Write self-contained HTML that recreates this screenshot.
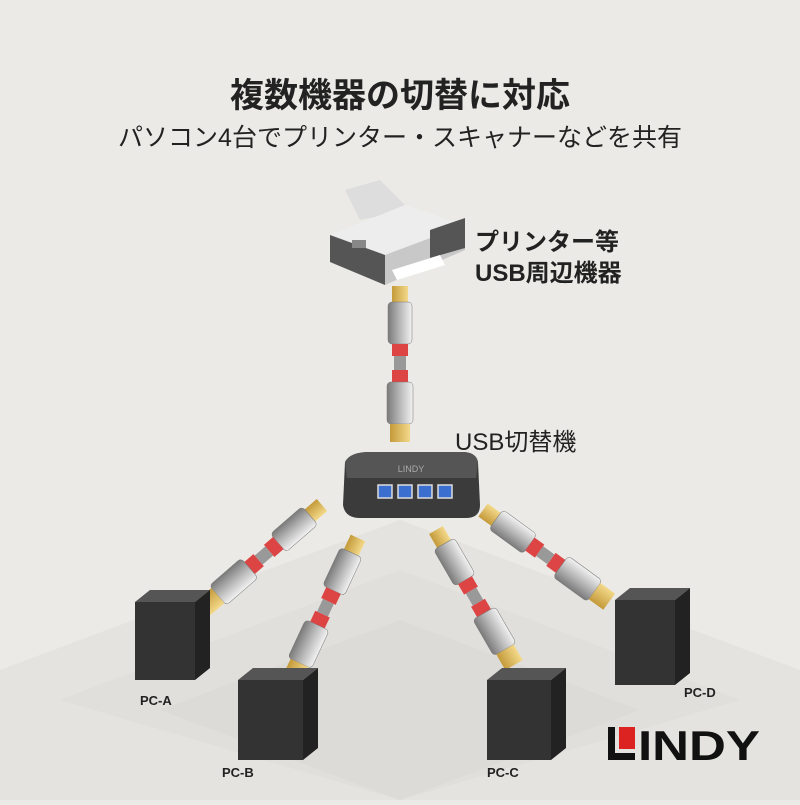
<!DOCTYPE html>
<html><head><meta charset="utf-8"><style>
body{margin:0;width:800px;height:800px;overflow:hidden;background:#ebeae6;font-family:"Liberation Sans","Noto Sans CJK JP",sans-serif}
</style></head><body>
<svg width="800" height="800" viewBox="0 0 800 800" xmlns="http://www.w3.org/2000/svg">
<defs>
<linearGradient id="gy" x1="0" y1="0" x2="0" y2="1"><stop offset="0" stop-color="#f2f2f2"/><stop offset=".5" stop-color="#b8b8b8"/><stop offset="1" stop-color="#7a7a7a"/></linearGradient>
<linearGradient id="gd" x1="0" y1="0" x2="0" y2="1"><stop offset="0" stop-color="#f3d98a"/><stop offset="1" stop-color="#c49a3a"/></linearGradient>
<g id="cab">
<rect x="0" y="-8" width="16" height="16" fill="url(#gd)"/>
<rect x="16" y="-12" width="42" height="24" rx="4" fill="url(#gy)" stroke="#777" stroke-width=".5"/>
<rect x="58" y="-8" width="12" height="16" fill="#d44"/>
<rect x="70" y="-6" width="14" height="12" fill="#999"/>
<rect x="84" y="-8" width="12" height="16" fill="#d44"/>
<rect x="96" y="-13" width="42" height="26" rx="4" fill="url(#gy)" stroke="#777" stroke-width=".5"/>
<rect x="138" y="-10" width="18" height="20" fill="url(#gd)"/>
</g>
</defs>
<rect width="800" height="800" fill="#ebeae6"/>
<polygon points="0,670 400,520 800,670 800,800 0,800" fill="#e4e3df"/>
<polygon points="60,700 400,570 740,700 400,800" fill="#dedddA" opacity=".8"/>
<polygon points="160,710 400,620 640,710 400,800" fill="#d9d8d4" opacity=".6"/>
<text x="400" y="107" text-anchor="middle" font-size="34" font-weight="bold" fill="#222">複数機器の切替に対応</text>
<text x="400" y="146" text-anchor="middle" font-size="25" fill="#222">パソコン4台でプリンター・スキャナーなどを共有</text>
<!-- printer -->
<polygon points="345,190 380,180 410,210 360,220" fill="#ddd"/>
<polygon points="330,235 405,205 465,225 385,255" fill="#ededed"/>
<polygon points="330,235 385,255 385,285 330,262" fill="#555"/>
<polygon points="385,255 465,225 465,250 385,285" fill="#c8c8c8"/>
<polygon points="430,230 465,218 465,248 430,258" fill="#555"/>
<polygon points="392,270 440,255 445,265 397,280" fill="#fff"/>
<rect x="352" y="240" width="14" height="8" fill="#888"/>
<text x="475" y="250" font-size="24" font-weight="bold" fill="#222">プリンター等</text>
<text x="475" y="281" font-size="24" font-weight="bold" fill="#222">USB周辺機器</text>
<use href="#cab" transform="translate(400,286) rotate(90)"/>
<text x="455" y="450" font-size="24" fill="#222">USB切替機</text>
<!-- switch -->
<path d="M345,462 Q350,452 370,452 L462,452 Q476,452 478,462 L480,505 Q480,518 466,518 L360,518 Q345,518 343,505 Z" fill="#3b3b3b"/>
<path d="M345,462 Q350,452 370,452 L462,452 Q476,452 478,462 L476,478 L347,478 Z" fill="#555"/>
<g fill="#3a6fd0" stroke="#ddd" stroke-width="1.5">
<rect x="378" y="485" width="14" height="13"/><rect x="398" y="485" width="14" height="13"/><rect x="418" y="485" width="14" height="13"/><rect x="438" y="485" width="14" height="13"/>
</g>
<text x="411" y="472" text-anchor="middle" font-size="9" fill="#aaa">LINDY</text>
<use href="#cab" transform="translate(322,505) rotate(139)"/>
<use href="#cab" transform="translate(358,538) rotate(115)"/>
<use href="#cab" transform="translate(436,530) rotate(60)"/>
<use href="#cab" transform="translate(483,510) rotate(36)"/>
<!-- PCs -->
<g>
<polygon points="135,602 150,590 210,590 195,602" fill="#555"/><rect x="135" y="602" width="60" height="78" fill="#333"/><polygon points="195,602 210,590 210,668 195,680" fill="#222"/>
<polygon points="238,680 253,668 318,668 303,680" fill="#555"/><rect x="238" y="680" width="65" height="80" fill="#333"/><polygon points="303,680 318,668 318,748 303,760" fill="#222"/>
<polygon points="487,680 502,668 566,668 551,680" fill="#555"/><rect x="487" y="680" width="64" height="80" fill="#333"/><polygon points="551,680 566,668 566,748 551,760" fill="#222"/>
<polygon points="615,600 630,588 690,588 675,600" fill="#555"/><rect x="615" y="600" width="60" height="85" fill="#333"/><polygon points="675,600 690,588 690,673 675,685" fill="#222"/>
</g>
<g font-size="13" font-weight="bold" fill="#222">
<text x="140" y="705">PC-A</text><text x="222" y="777">PC-B</text><text x="487" y="777">PC-C</text><text x="684" y="697">PC-D</text>
</g>
<rect x="608" y="727" width="7" height="33" fill="#111"/><rect x="608" y="753" width="27" height="7" fill="#111"/><rect x="619" y="727" width="16" height="22" fill="#d22"/>
<text x="638" y="760" font-size="42" font-weight="bold" fill="#111" textLength="122" lengthAdjust="spacingAndGlyphs">INDY</text>
</svg>
</body></html>
